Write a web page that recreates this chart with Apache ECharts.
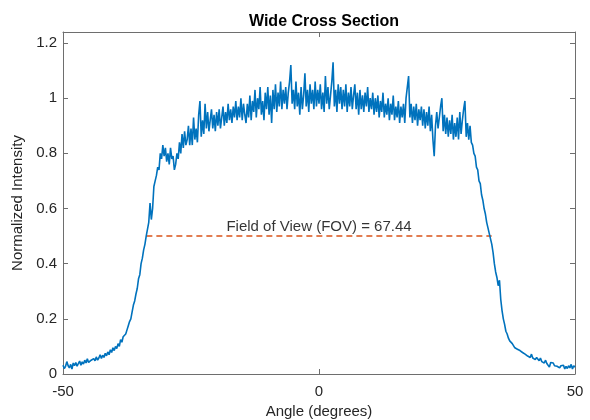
<!DOCTYPE html>
<html>
<head>
<meta charset="utf-8">
<script src="https://cdn.jsdelivr.net/npm/echarts@6/dist/echarts.min.js"></script>
<style>html,body{margin:0;padding:0;background:#fff}#c{width:590px;height:420px}</style>
</head>
<body>
<div id="c"></div>
<script>
const angleStart = -50;
const angleStep = 0.25;
const intensity = [
0.032,0.02,0.028,0.045,0.03,0.022,0.035,0.018,0.04,0.03,
0.042,0.028,0.038,0.047,0.032,0.044,0.036,0.05,0.04,0.055,
0.042,0.038,0.05,0.045,0.056,0.048,0.062,0.05,0.058,0.07,
0.056,0.068,0.06,0.075,0.066,0.08,0.07,0.088,0.078,0.095,
0.085,
0.1,0.092,0.11,0.1,0.125,0.115,0.135,0.13,0.145,0.16,
0.175,0.19,0.2,0.225,0.25,0.265,0.29,0.31,0.345,0.36,
0.4,0.42,0.45,0.47,0.5,0.505,0.55,0.62,0.56,0.6,
0.68,0.7,0.72,0.75,0.74,0.8,0.78,0.83,0.79,0.82,
0.77,0.8,0.76,0.82,0.78,0.79,0.74,0.76,0.8,0.78,
0.84,0.8,0.87,0.82,0.88,0.83,0.85,0.9,0.83,0.89,
0.83,0.93,0.85,0.89,0.84,0.94,0.99,0.86,0.92,0.87,
0.98,0.89,0.95,0.88,0.92,0.96,0.89,0.94,0.88,0.95,
0.9,0.96,0.89,0.93,0.97,0.9,0.95,0.91,0.98,0.92,
0.96,0.91,0.97,0.93,0.99,0.92,0.97,0.93,1.0,0.92,
0.98,0.94,0.91,0.98,0.93,1.01,0.92,0.99,0.95,1.03,
0.93,1.0,0.96,1.04,0.94,0.99,0.92,1.02,0.96,1.04,
0.94,1.01,0.91,1.03,0.96,1.05,0.95,1.02,0.97,1.06,
0.96,1.03,0.98,1.04,0.96,1.02,1.06,1.12,0.98,1.03,
0.96,1.06,0.97,1.02,0.94,1.04,0.96,1.01,1.09,0.97,
1.03,0.95,1.05,0.98,1.03,0.96,1.06,0.97,1.03,0.98,
1.05,0.96,1.02,0.95,1.08,0.98,1.04,0.96,1.01,1.06,
1.13,0.97,1.03,0.95,1.05,0.98,1.04,0.96,1.03,0.97,
1.05,0.95,1.02,0.97,1.04,0.96,1.01,1.05,0.96,1.02,
0.94,1.03,0.96,1.01,0.95,1.02,0.97,1.04,0.95,1.0,
0.96,1.02,0.94,1.0,0.95,1.01,0.93,0.99,0.95,1.02,
0.93,0.98,0.94,1.0,0.92,0.98,0.94,1.01,0.92,0.97,
0.93,0.99,0.91,0.97,0.93,0.98,0.91,1.0,1.04,1.08,
0.93,0.98,0.91,0.97,0.92,0.98,0.9,0.96,0.92,0.97,
0.9,0.96,0.89,0.95,0.9,0.97,0.88,0.94,0.85,0.79,
0.9,0.95,0.89,0.93,0.97,1.0,0.88,0.94,0.87,0.93,
0.86,0.92,0.87,0.94,0.85,0.91,0.86,0.93,0.85,0.95,
0.87,0.92,0.96,0.99,0.86,0.91,0.85,0.9,0.84,0.83,
0.8,0.79,0.75,0.74,0.7,0.69,0.65,0.63,0.6,0.58,
0.55,0.53,0.51,0.49,0.47,0.44,0.4,0.37,0.35,0.32,
0.34,0.27,0.23,0.2,0.18,0.155,0.145,0.13,0.12,0.125,
0.11,0.105,0.095,0.1,0.09,0.095,0.085,0.09,0.078,0.082,
0.072,0.078,0.065,0.07,0.06,0.072,0.058,0.065,0.052,0.06,
0.055,0.048,0.058,0.045,0.052,0.04,0.05,0.038,0.045,0.025,
0.042,0.035,0.04,0.03,0.036,0.028,0.034,0.022,0.03,0.025,
0.032,0.018,0.028,0.02,0.03,0.022,0.035,0.018,0.03,0.025
];
const fovLeft = -33.72;
const fovRight = 33.72;
const fovLevel = 0.5;
const fovText = 'Field of View (FOV) = 67.44';
const xTicks = [-50, 0, 50];
const yTicks = [0, 0.2, 0.4, 0.6, 0.8, 1, 1.2];

const curve = intensity.map((v, i) => [angleStart + i * angleStep, v]);
const font = 'Liberation Sans, Arial, Helvetica, sans-serif';
const axisCol = '#262626';
const lineCol = '#6e6e6e';

const chart = echarts.init(document.getElementById('c'), null, {renderer: 'canvas'});
chart.setOption({
  animation: false,
  backgroundColor: '#ffffff',
  title: {
    text: 'Wide Cross Section', left: 319, top: 9, textAlign: 'center',
    textStyle: {fontFamily: font, fontSize: 16, fontWeight: 'bold', color: '#000'}
  },
  grid: {left: 63, right: 15, top: 32, bottom: 46, outerBoundsMode: 'none', containLabel: false},
  xAxis: [{
    type: 'value', min: -50, max: 50, interval: 50,
    name: 'Angle (degrees)', nameLocation: 'middle', nameGap: 27,
    nameTextStyle: {fontFamily: font, fontSize: 15, color: axisCol},
    axisLine: {onZero: false, lineStyle: {color: lineCol, width: 1}},
    axisTick: {inside: true, length: 5, lineStyle: {color: lineCol}},
    axisLabel: {fontFamily: font, fontSize: 15, color: axisCol, margin: 10,
      formatter: v => xTicks.includes(v) ? String(v) : ''},
    splitLine: {show: false}
  }, {
    type: 'value', min: -50, max: 50, interval: 50, position: 'top',
    axisLine: {onZero: false, lineStyle: {color: lineCol, width: 1}},
    axisTick: {inside: true, length: 5, lineStyle: {color: lineCol}},
    axisLabel: {show: false}, splitLine: {show: false}
  }],
  yAxis: [{
    type: 'value', min: 0, max: 1.24, interval: 0.2,
    name: 'Normalized Intensity', nameLocation: 'middle', nameGap: 30,
    nameTextStyle: {fontFamily: font, fontSize: 15, color: axisCol},
    axisLine: {show: true, onZero: false, lineStyle: {color: lineCol, width: 1}},
    axisTick: {show: true, inside: true, length: 5, lineStyle: {color: lineCol}},
    axisLabel: {fontFamily: font, fontSize: 15, color: axisCol, margin: 6, showMaxLabel: false,
      formatter: v => { const r = Math.round(v * 10) / 10; return yTicks.includes(r) ? String(r) : ''; }},
    splitLine: {show: false}
  }, {
    type: 'value', min: 0, max: 1.24, interval: 0.2, position: 'right',
    axisLine: {show: true, onZero: false, lineStyle: {color: lineCol, width: 1}},
    axisTick: {show: true, inside: true, length: 5, lineStyle: {color: lineCol}},
    axisLabel: {show: false}, splitLine: {show: false}
  }],
  series: [{
    type: 'line', data: curve, showSymbol: false, symbol: 'none',
    lineStyle: {color: '#0072BD', width: 1.6}, z: 3
  }, {
    type: 'line', data: [[fovLeft, fovLevel], [fovRight, fovLevel]], symbol: 'none',
    lineStyle: {color: '#D95319', width: 1.5, type: [6, 4]}, z: 2
  }, {
    type: 'scatter', data: [[0, fovLevel]], symbolSize: 0,
    label: {show: true, position: 'top', distance: 2, formatter: fovText,
      fontFamily: font, fontSize: 15, color: '#000'}
  }]
});
</script>
</body>
</html>
